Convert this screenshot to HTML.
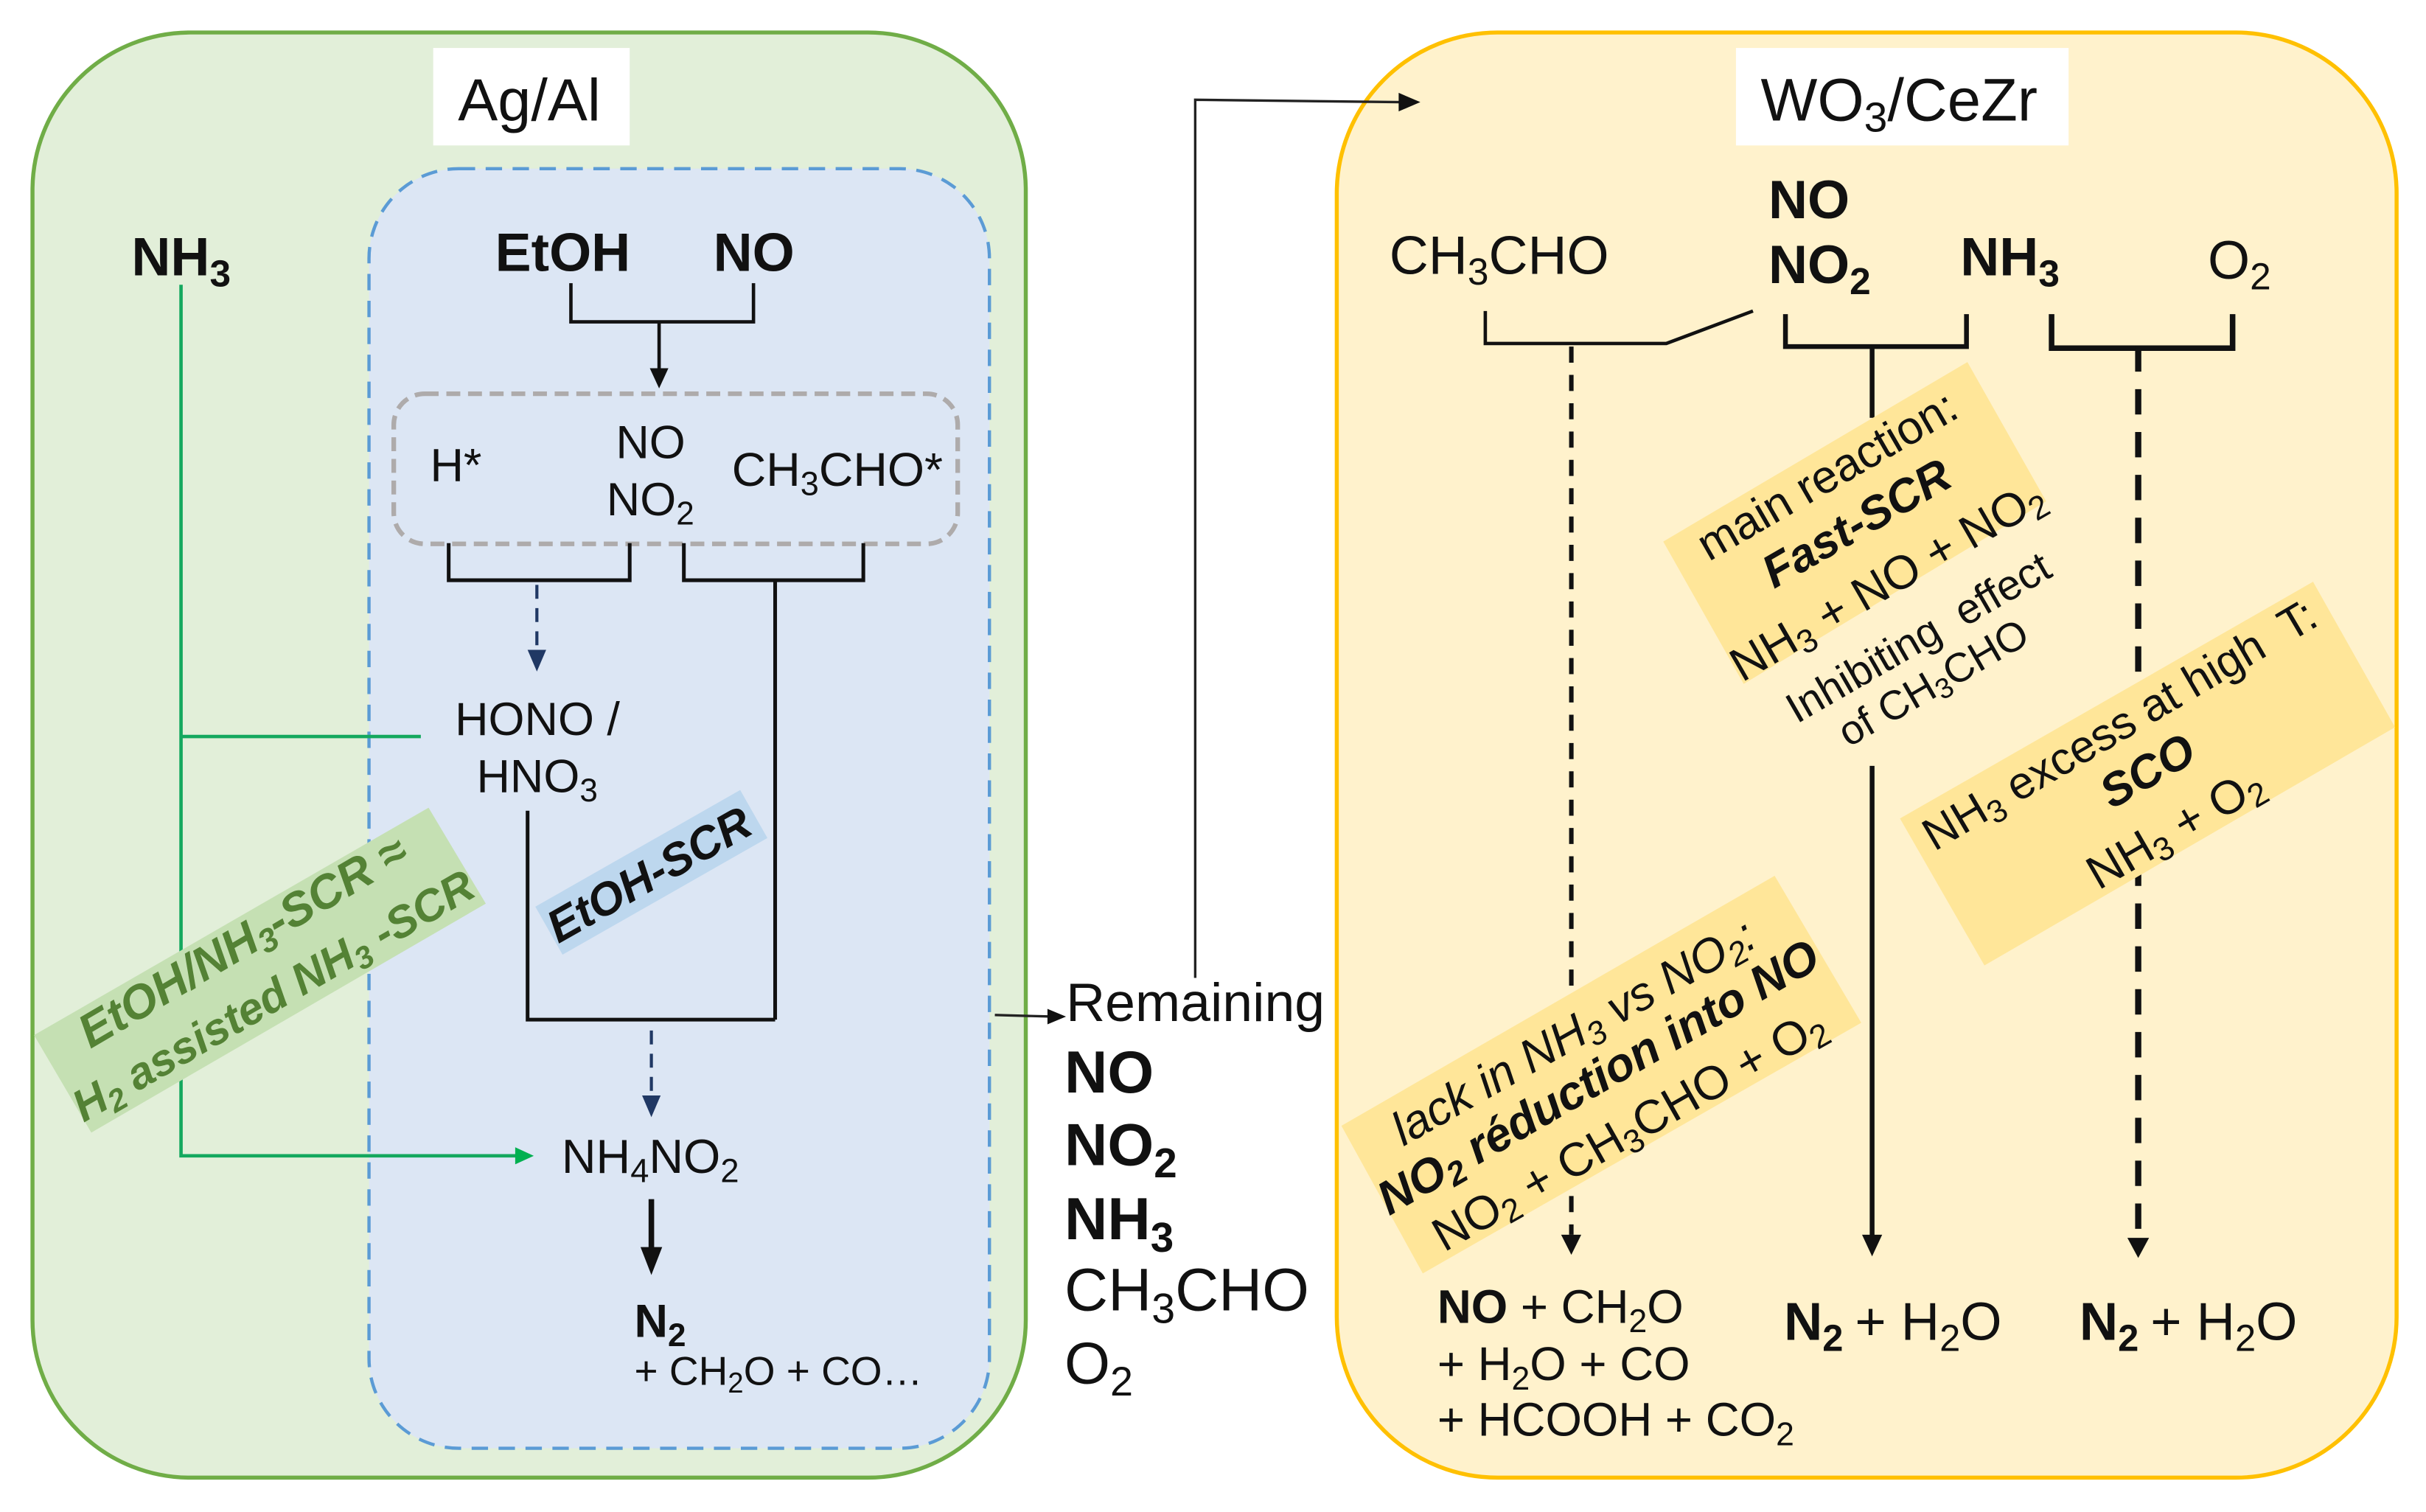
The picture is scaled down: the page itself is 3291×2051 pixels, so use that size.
<!DOCTYPE html>
<html><head><meta charset="utf-8"><style>
html,body{margin:0;padding:0;background:#fff}
svg{display:block}
text{font-family:"Liberation Sans",sans-serif;fill:#111}
.b{font-weight:bold}.i{font-style:italic}.s{font-size:.7em}
.g{fill:#548235}
</style></head><body>
<svg xmlns="http://www.w3.org/2000/svg" width="3291" height="2051" viewBox="0 0 1568 977.2">
<rect width="1568" height="978" fill="#fff"/>
<!-- left container -->
<rect x="21" y="21" width="642" height="934" rx="102" fill="#e2efd9" stroke="#70ad47" stroke-width="2.600"/>
<rect x="280" y="31" width="127" height="63" fill="#fff"/>
<text x="296" y="78" font-size="38.600">Ag/Al</text>
<rect x="238.500" y="109" width="401" height="827" rx="58" fill="#dce6f4" stroke="#5b9bd5" stroke-width="2.100" stroke-dasharray="10.600 6.800"/>
<!-- green lines -->
<path d="M117 184V747H335M117 476H272" fill="none" stroke="#14a85e" stroke-width="2.200"/>
<polygon points="345,747 333,741.500 333,752.500" fill="#00b050"/>
<polygon points="277,522 314,584 59,732 22,669" fill="#c5e0b3"/>
<text transform="translate(162 617) rotate(-30.500)" text-anchor="middle" font-size="30.500" class="b i g">EtOH/NH<tspan class="s" dy="5">3</tspan><tspan dy="-5">-SCR ≈</tspan></text>
<text transform="translate(181.500 652) rotate(-30)" text-anchor="middle" font-size="28.800" class="b i g">H<tspan class="s" dy="5">2</tspan><tspan dy="-5"> assisted NH</tspan><tspan class="s" dy="5">3</tspan><tspan dy="-5"> -SCR</tspan></text>
<text x="85" y="178" font-size="35" class="b">NH<tspan class="s" dy="7">3</tspan></text>
<text x="320" y="175" font-size="35" class="b">EtOH</text>
<text x="461" y="175" font-size="35" class="b">NO</text>
<path d="M369 183V208H487V183M426 208V240" fill="none" stroke="#111" stroke-width="2.200"/>
<polygon points="426,251 420,238 432,238" fill="#111"/>
<rect x="254.500" y="254.500" width="364.500" height="97" rx="20" fill="none" stroke="#aeabab" stroke-width="3" stroke-dasharray="9 5"/>
<text x="278" y="311" font-size="30">H*</text>
<text x="398" y="296" font-size="30">NO</text>
<text x="392" y="333" font-size="30">NO<tspan class="s" dy="6">2</tspan></text>
<text x="473" y="314" font-size="30.700">CH<tspan class="s" dy="6">3</tspan><tspan dy="-6">CHO*</tspan></text>
<path d="M290 351V375H407V351M442 351V375H558V351M501 375V659M341 524V659H501" fill="none" stroke="#111" stroke-width="2.400"/>
<path d="M347 378V422" fill="none" stroke="#203864" stroke-width="2" stroke-dasharray="9 6"/>
<polygon points="347,434 341,420 353,420" fill="#203864"/>
<text x="294" y="475" font-size="30">HONO /</text>
<text x="308" y="512" font-size="30">HNO<tspan class="s" dy="6">3</tspan></text>
<polygon points="346,586 478.400,510.600 496,541.600 363.600,617" fill="#bdd7ee"/>
<text transform="translate(424.500 574) rotate(-29.500)" text-anchor="middle" font-size="29.600" class="b i">EtOH-SCR</text>
<path d="M421 666V710" fill="none" stroke="#203864" stroke-width="2" stroke-dasharray="9 6"/>
<polygon points="421,722 415,708 427,708" fill="#203864"/>
<text x="363" y="758" font-size="30.800">NH<tspan class="s" dy="6">4</tspan><tspan dy="-6">NO</tspan><tspan class="s" dy="6">2</tspan></text>
<path d="M421 775V810" fill="none" stroke="#111" stroke-width="3.600"/>
<polygon points="421,824 414,806 428,806" fill="#111"/>
<text x="410" y="864" font-size="30" class="b">N<tspan class="s" dy="6">2</tspan></text>
<text x="410" y="895" font-size="26.200">+ CH<tspan class="s" dy="5">2</tspan><tspan dy="-5">O + CO…</tspan></text>
<!-- middle -->
<path d="M643 656L680 657" stroke="#222" stroke-width="1.600" fill="none"/>
<polygon points="689,657 677,652 677,662" fill="#111"/>
<text x="689" y="660" font-size="35">Remaining</text>
<text x="688" y="706" font-size="38.500" class="b">NO</text>
<text x="688" y="753" font-size="38.500" class="b">NO<tspan class="s" dy="8">2</tspan></text>
<text x="688" y="801" font-size="38.500" class="b">NH<tspan class="s" dy="8">3</tspan></text>
<text x="688" y="847" font-size="39">CH<tspan class="s" dy="8">3</tspan><tspan dy="-8">CHO</tspan></text>
<text x="688" y="894" font-size="38">O<tspan class="s" dy="8">2</tspan></text>
<!-- right container -->
<rect x="864" y="21" width="685" height="934" rx="104" fill="#fff2cc" stroke="#ffc000" stroke-width="2.600"/>
<path d="M772.500 632V64.500L906 66" fill="none" stroke="#222" stroke-width="1.600"/>
<polygon points="918,66 904,60 904,72" fill="#111"/>
<rect x="1122" y="31" width="215" height="63" fill="#fff"/>
<text x="1138" y="78" font-size="38.800">WO<tspan class="s" dy="7">3</tspan><tspan dy="-7">/CeZr</tspan></text>
<text x="898" y="177" font-size="35">CH<tspan class="s" dy="7">3</tspan><tspan dy="-7">CHO</tspan></text>
<text x="1143" y="141" font-size="35" class="b">NO</text>
<text x="1143" y="183" font-size="35" class="b">NO<tspan class="s" dy="7">2</tspan></text>
<text x="1267" y="178" font-size="35" class="b">NH<tspan class="s" dy="7">3</tspan></text>
<text x="1427" y="180" font-size="35">O<tspan class="s" dy="7">2</tspan></text>
<path d="M960 201V222H1077L1133 201" fill="none" stroke="#111" stroke-width="2.200"/>
<path d="M1015.600 224V798" fill="none" stroke="#111" stroke-width="2.900" stroke-dasharray="10.400 7.900"/>
<polygon points="1015.600,811 1009,798 1022,798" fill="#111"/>
<path d="M1154 203V224H1271V203M1210 224V270M1210 495V800" fill="none" stroke="#111" stroke-width="3.100"/>
<polygon points="1210,812 1203.500,798 1216.500,798" fill="#111"/>
<path d="M1326 203V225H1443V203" fill="none" stroke="#111" stroke-width="3.600"/>
<path d="M1382 223.800V795" fill="none" stroke="#111" stroke-width="4" stroke-dasharray="16.400 11.300"/>
<polygon points="1382,813 1375,800 1389,800" fill="#111"/>
<!-- yellow bands sit above the connectors -->
<polygon points="1271.600,234 1322.500,324 1127,442 1075,350" fill="#ffe699"/>
<polygon points="1495,376 1548,470 1282.600,624 1228,529" fill="#ffe699"/>
<polygon points="1147,566 1203,661 919.600,823 867,727.600" fill="#ffe699"/>
<text transform="translate(1186 316) rotate(-30)" text-anchor="middle" font-size="30">main reaction:</text>
<text transform="translate(1205 347) rotate(-30)" text-anchor="middle" font-size="30" class="b i">Fast-SCR</text>
<text transform="translate(1225 384) rotate(-30)" text-anchor="middle" font-size="30.500">NH<tspan class="s" dy="5">3</tspan><tspan dy="-5"> + NO + NO</tspan><tspan class="s" dy="5">2</tspan></text>
<text transform="translate(1244.500 420) rotate(-30)" text-anchor="middle" font-size="27.500">Inhibiting&#160; effect</text>
<text transform="translate(1254 449) rotate(-30)" text-anchor="middle" font-size="26.500">of CH<tspan class="s" dy="4">3</tspan><tspan dy="-4">CHO</tspan></text>
<text transform="translate(1375 477) rotate(-30.500)" text-anchor="middle" font-size="29.500">NH<tspan class="s" dy="5">3</tspan><tspan dy="-5"> excess at high&#160; T:</tspan></text>
<text transform="translate(1393 507) rotate(-30)" text-anchor="middle" font-size="30" class="b i">SCO</text>
<text transform="translate(1411 544) rotate(-30)" text-anchor="middle" font-size="30.500">NH<tspan class="s" dy="5">3</tspan><tspan dy="-5"> + O</tspan><tspan class="s" dy="5">2</tspan></text>
<text transform="translate(1022 676) rotate(-29.500)" text-anchor="middle" font-size="30.500" class="i">lack in NH<tspan class="s" dy="5">3</tspan><tspan dy="-5"> vs NO</tspan><tspan class="s" dy="5">2</tspan><tspan dy="-5">:</tspan></text>
<text transform="translate(1038 705) rotate(-30)" text-anchor="middle" font-size="30.500" class="b i">NO<tspan class="s" dy="5">2</tspan><tspan dy="-5"> réduction into NO</tspan></text>
<text transform="translate(1058 739) rotate(-29.500)" text-anchor="middle" font-size="30.500">NO<tspan class="s" dy="5">2</tspan><tspan dy="-5"> + CH</tspan><tspan class="s" dy="5">3</tspan><tspan dy="-5">CHO + O</tspan><tspan class="s" dy="5">2</tspan></text>
<text x="929" y="855" font-size="30.300"><tspan class="b">NO</tspan> + CH<tspan class="s" dy="6">2</tspan><tspan dy="-6">O</tspan></text>
<text x="929" y="892" font-size="30.300">+ H<tspan class="s" dy="6">2</tspan><tspan dy="-6">O + CO</tspan></text>
<text x="929" y="928" font-size="30.300">+ HCOOH + CO<tspan class="s" dy="6">2</tspan></text>
<text x="1153" y="866" font-size="34.500"><tspan class="b">N</tspan><tspan class="s b" dy="7">2</tspan><tspan dy="-7" dx="-2"> + H</tspan><tspan class="s" dy="7">2</tspan><tspan dy="-7">O</tspan></text>
<text x="1344" y="866" font-size="34.500"><tspan class="b">N</tspan><tspan class="s b" dy="7">2</tspan><tspan dy="-7" dx="-2"> + H</tspan><tspan class="s" dy="7">2</tspan><tspan dy="-7">O</tspan></text>
</svg>
</body></html>
